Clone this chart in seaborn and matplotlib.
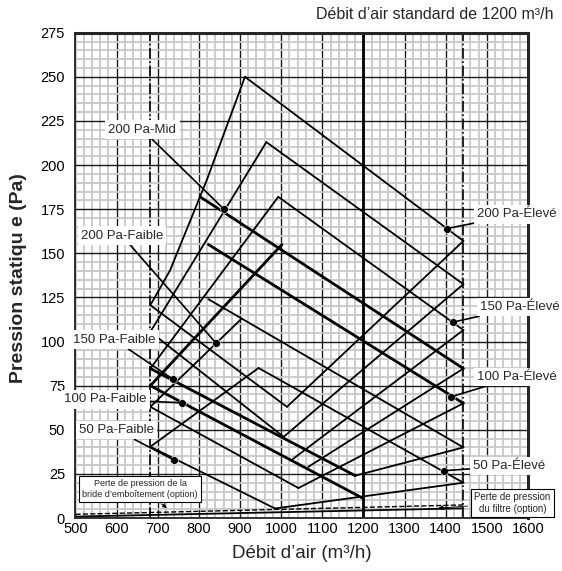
import numpy as np
import pandas as pd
import seaborn as sns
import matplotlib.pyplot as plt
import matplotlib.transforms as mtransforms
from matplotlib.ticker import MultipleLocator, FixedLocator

sns.set_style('white')
plt.rcParams['font.family'] = ['Liberation Sans', 'DejaVu Sans']

# limits of the operating range (m3/h)
x_min_flow = 682
x_max_flow = 1443
x_standard = 1200

# ascending lines (from the left limit)
a1_x = [682, 730, 819, 912]
a1_y = [120.6, 140.4, 191.4, 250]
a2_x = [682, 964]
a2_y = [105.5, 213]
a3_x = [682, 993]
a3_y = [84.7, 182]
a4_x = [682, 1002]
a4_y = [75, 155]
a5_x = [682, 904]
a5_y = [63, 113]
a6_x = [682, 945]
a6_y = [40.4, 85]

# descending lines ending on the right limit
e200_x = [912, 1443]
e200_y = [250, 157]
p2_x = [964, 1443]
p2_y = [213, 132.5]
e150_x = [993, 1443]
e150_y = [182, 106.5]
mid200_x = [803, 1443]
mid200_y = [182, 84.7]
e100_x = [823, 1443]
e100_y = [155, 65]
t3_x = [823, 1443]
t3_y = [124, 40]
e50_x = [945, 1443]
e50_y = [85, 20]

# descending lines from the left limit
f1_x = [682, 1014]
f1_y = [120.6, 63]
f2_x = [682, 1006]
f2_y = [105.5, 46]
f3_x = [682, 1180]
f3_y = [84.7, 24]
f4_x = [682, 1200]
f4_y = [75, 11]
f5_x = [682, 1042]
f5_y = [63, 17]
f6_x = [682, 985]
f6_y = [40.4, 5.4]

# ascending lines ending on the right limit
r1_x = [1014, 1443]
r1_y = [63, 157]
r2_x = [1006, 1443]
r2_y = [46, 132.5]
r3_x = [1026, 1443]
r3_y = [33, 106.5]
r4_x = [1066, 1443]
r4_y = [29, 84.7]
r5_x = [1042, 1443]
r5_y = [17, 65]
r6_x = [1180, 1443]
r6_y = [24, 40]
r7_x = [985, 1443]
r7_y = [5.4, 20]

thin = [(a1_x, a1_y), (a2_x, a2_y), (a3_x, a3_y), (a5_x, a5_y), (a6_x, a6_y),
        (e200_x, e200_y), (p2_x, p2_y), (e150_x, e150_y), (t3_x, t3_y),
        (e50_x, e50_y), (f1_x, f1_y), (f2_x, f2_y), (f5_x, f5_y), (f6_x, f6_y),
        (r1_x, r1_y), (r2_x, r2_y), (r3_x, r3_y), (r4_x, r4_y), (r5_x, r5_y),
        (r6_x, r6_y), (r7_x, r7_y)]
bold = [(mid200_x, mid200_y), (e100_x, e100_y), (a4_x, a4_y), (f3_x, f3_y),
        (f4_x, f4_y)]

# pressure losses
filtre_x = [500, 1443]
filtre_y = [0.8, 5.5]
bride_x = [500, 1443]
bride_y = [2.1, 7.4]

# dots and labels
dot_x = [861, 842, 1403, 738, 1418, 760, 1413, 740, 1395]
dot_y = [175, 99, 164, 78.5, 111, 65.3, 68.7, 32.8, 26.8]
dot_text = ['200 Pa-Mid', '200 Pa-Faible', '200 Pa-Élevé', '150 Pa-Faible',
            '150 Pa-Élevé', '100 Pa-Faible', '100 Pa-Élevé', '50 Pa-Faible',
            '50 Pa-Élevé']
text_x = [580, 513, 1476, 495, 1484, 472, 1476, 509, 1466]
text_y = [220, 160, 172, 101, 119.6, 67.2, 80, 49.8, 29.4]

fig = plt.figure(figsize=(5.62, 5.71), dpi=100)
ax = fig.add_axes([0.1343, 0.0928, 0.8052, 0.8499])
ax.set_xlim(500, 1600)
ax.set_ylim(0, 275)

ax.xaxis.set_major_locator(MultipleLocator(100))
ax.xaxis.set_minor_locator(FixedLocator([v for v in range(500, 1601, 20) if v % 100]))
ax.yaxis.set_major_locator(MultipleLocator(25))
ax.yaxis.set_minor_locator(FixedLocator([v for v in range(0, 276, 5) if v % 25]))
ax.grid(which='minor', color='#c8c8c8', lw=1.3)
ax.grid(which='major', color='#1a1a1a', lw=1)
ax.set_axisbelow(True)
ax.tick_params(which='both', direction='inout', colors='black', labelsize=10.5)
ax.tick_params(axis='x', pad=0)
ax.tick_params(axis='y', pad=4.5)
ax.tick_params(which='major', length=6, width=1)
ax.tick_params(which='minor', length=4, width=1)

for side in ['top', 'right']:
    ax.spines[side].set_linewidth(2.2)
for side in ['left', 'bottom']:
    ax.spines[side].set_linewidth(1.3)

ax.axvline(x_min_flow, color='black', lw=1.2, ls='-.', zorder=2)
ax.axvline(x_max_flow, color='black', lw=1.2, ls='-.', zorder=2)
ax.axvline(x_standard, color='black', lw=2, zorder=2)

for xs, ys in thin:
    sns.lineplot(x=xs, y=ys, sort=False, estimator=None, color='black', lw=1.3, ax=ax)
for xs, ys in bold:
    sns.lineplot(x=xs, y=ys, sort=False, estimator=None, color='black', lw=2, ax=ax)
sns.lineplot(x=filtre_x, y=filtre_y, sort=False, estimator=None, color='black',
             lw=1.3, ax=ax)
sns.lineplot(x=bride_x, y=bride_y, sort=False, estimator=None, color='black',
             lw=1, ls='--', ax=ax)

sns.scatterplot(x=dot_x, y=dot_y, color='black', s=32, zorder=5, ax=ax)
for tx, ty, dx, dy, s in zip(text_x, text_y, dot_x, dot_y, dot_text):
    ax.annotate(s, xy=(dx, dy), xytext=(tx, ty), fontsize=9.5, ha='left', va='center',
                bbox=dict(boxstyle='square,pad=0.25', fc='white', ec='none'),
                arrowprops=dict(arrowstyle='-', color='black', lw=1.2,
                                shrinkA=0, shrinkB=0), zorder=6,
                annotation_clip=False)

ax.annotate('Perte de pression de la\nbride d’emboîtement (option)', xy=(728, 4.8),
            xytext=(657, 16.5), fontsize=6.5, ha='center', va='center',
            bbox=dict(boxstyle='square,pad=0.35', fc='white', ec='black', lw=0.8),
            arrowprops=dict(arrowstyle='-|>', color='black', lw=0.6, ls='--'), zorder=6)
ax.annotate('Perte de pression\ndu filtre (option)', xy=(1375, 5.5),
            xytext=(1562, 8.5), fontsize=7, ha='center', va='center',
            bbox=dict(boxstyle='square,pad=0.35', fc='white', ec='black', lw=0.8),
            arrowprops=dict(arrowstyle='-|>', color='black', lw=0.6), zorder=6,
            annotation_clip=False)

ax.set_xlabel('Débit d’air (m³/h)', fontsize=13.5, labelpad=6)
ax.set_ylabel('Pression statiqu e (Pa)', fontsize=14, fontweight='bold')
ax.yaxis.set_label_coords(-0.108, 0.494)
fig.text(0.985, 0.975, 'Débit d’air standard de 1200 m³/h', ha='right', va='center',
         fontsize=11.5)

# the first x label sits a little to the right, clear of the "0"
fig.canvas.draw()
first = ax.get_xticklabels()[0]
first.set_transform(first.get_transform()
                    + mtransforms.ScaledTranslation(5 / 72, 0, fig.dpi_scale_trans))

fig.savefig('out.png', dpi=100)
